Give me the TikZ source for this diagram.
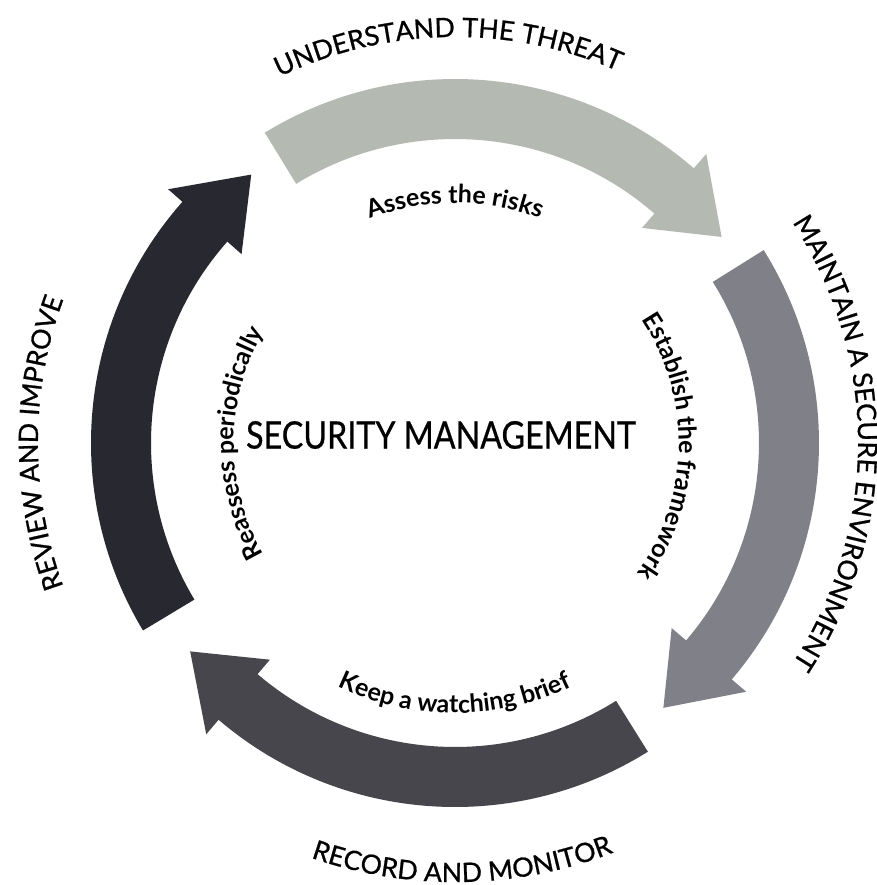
\documentclass[tikz,border=0pt]{standalone}
\usepackage{fontspec}
\usepackage{xcolor}
\usepackage{tikz}
\setmainfont{Lato}
\newfontfamily\narrowlato[FakeStretch=0.85,FakeBold=0.6]{Lato}
\newfontfamily\heavylato[FakeBold=0.8]{Lato}
\usetikzlibrary{decorations.text}
\definecolor{threatgrey}{RGB}{180,186,178}
\definecolor{securegrey}{RGB}{128,128,136}
\definecolor{recordgrey}{RGB}{70,70,76}
\definecolor{reviewgrey}{RGB}{40,40,48}
\newcommand\outerfont{\fontsize{7.6}{9}\selectfont\heavylato}
\newcommand\innerfont{\fontsize{7.1}{8}\selectfont\bfseries}
\newcommand\titlefont{\fontsize{10.8}{12}\selectfont\narrowlato}
% one segment of the cycle: #1 = angle of the tail, #2 = fill
\newcommand\cyclearrow[2]{%
  \fill[#2] (#1:3.04) arc[start angle=#1, end angle=#1-72.5, radius=3.04]
    -- ({#1-72.5}:2.85) -- ({#1-83.8}:3.37) -- ({#1-72.5}:3.83)
    -- ({#1-72.5}:3.64) arc[start angle=#1-72.5, end angle=#1, radius=3.64] -- cycle;}
\tikzstyle{outerlabel} = [decorate, decoration={text along path, text align=center,
  text={|\outerfont|#1}}]
\tikzstyle{innerlabel} = [decorate, decoration={text along path, text align=center,
  text={|\innerfont|#1}}]

\begin{document}
\begin{tikzpicture}
    \fill[white] (-4.55,-4.42) rectangle (4.22,4.43);
    \useasboundingbox (-4.55,-4.42) rectangle (4.22,4.43);

    \cyclearrow{121.5}{threatgrey}
    \cyclearrow{32}{securegrey}
    \cyclearrow{302}{recordgrey}
    \cyclearrow{211}{reviewgrey}

    \node[font=\titlefont] (title) at (-0.14,0.08) {SECURITY MANAGEMENT};

    \path[outerlabel={UNDERSTAND THE THREAT}] (151:4.06) arc[start angle=151, end angle=31, radius=4.06];
    \path[outerlabel={MAINTAIN A SECURE ENVIRONMENT}] (70:4.03) arc[start angle=70, end angle=-70, radius=4.03];
    \path[outerlabel={RECORD AND MONITOR}] (211:4.39) arc[start angle=211, end angle=331, radius=4.39];
    \path[outerlabel={REVIEW AND IMPROVE}] (240:4.17) arc[start angle=240, end angle=120, radius=4.17];

    \path[innerlabel={Assess the risks}] (130:2.40) arc[start angle=130, end angle=50, radius=2.40];
    \path[innerlabel={Establish the framework}] (44:2.24) arc[start angle=44, end angle=-46, radius=2.24];
    \path[innerlabel={Keep a watching brief}] (225:2.70) arc[start angle=225, end angle=315, radius=2.70];
    \path[innerlabel={Reassess periodically}] (225:2.21) arc[start angle=225, end angle=135, radius=2.21];
\end{tikzpicture}
\end{document}
